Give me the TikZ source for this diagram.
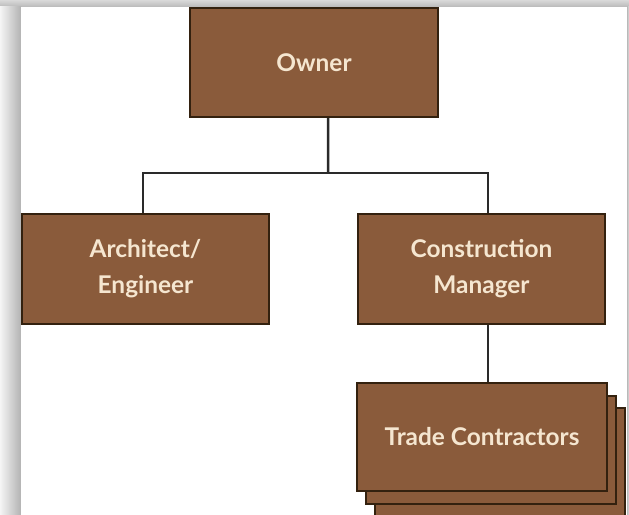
\documentclass[tikz,border=0pt]{standalone}
\usepackage{fontspec}
\setsansfont{Lato}
\definecolor{boxfill}{HTML}{8A5B3B}
\definecolor{boxedge}{HTML}{33210F}
\definecolor{boxtext}{HTML}{F5E6D0}
\definecolor{linkgray}{HTML}{2A2A2A}
\definecolor{bggray}{HTML}{E6E6E6}
\begin{document}
\begin{tikzpicture}[x=1bp,y=-1bp,
  box/.style={draw=boxedge, line width=2.2bp, fill=boxfill, text=boxtext,
    font=\sffamily\bfseries\fontsize{24.5}{36}\selectfont, align=center, inner sep=0pt},
  wide/.style={minimum width=247bp, minimum height=110bp},
  link/.style={draw=linkgray, line width=2.5bp}]
\useasboundingbox (0,0) rectangle (629,515);
% page background with shaded edges round the white panel
\fill[bggray] (0,0) rectangle (629,515);
\shade[top color=gray!30, bottom color=gray!55] (0,0) rectangle (629,7);
\shade[left color=gray!8, right color=gray!60] (0,7) rectangle (21,515);
\shade[left color=gray!55, right color=gray!25] (627,7) rectangle (629,515);
\fill[white] (21,7) rectangle (627,515);

% boxes
\node[box, minimum width=248bp, minimum height=109bp] (owner) at (314,62.5) {Owner};
\node[box, wide] (arch) at (145.5,269) {Architect/\\Engineer};
\node[box, wide] (cm) at (481.5,269) {Construction\\Manager};
\node[box, minimum width=250bp, minimum height=108bp] (trade3) at (500,462) {};
\node[box, minimum width=250bp, minimum height=108bp] (trade2) at (491,450) {};
\node[box, minimum width=250bp, minimum height=108bp] (trade) at (482,437) {Trade Contractors};

% connectors
\coordinate (split) at (328,173);
\draw[link] ([xshift=14bp]owner.south) -- (split);
\draw[link] ([xshift=-2.5bp]arch.north) |- (split) -| ([xshift=6.5bp]cm.north);
\draw[link] ([xshift=6.5bp]cm.south) -- ([xshift=6bp]trade.north);
\end{tikzpicture}
\end{document}
